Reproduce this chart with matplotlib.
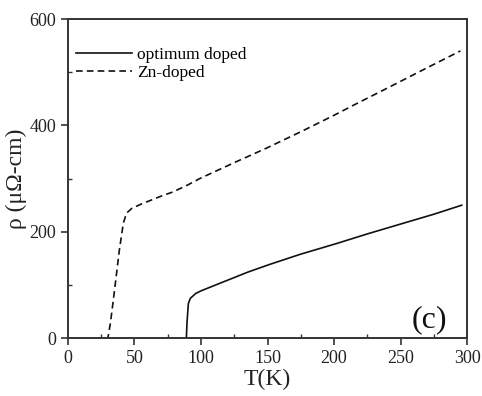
import numpy as np
import matplotlib
matplotlib.use('Agg')
import matplotlib.pyplot as plt

# data
t_opt = [85, 89, 89.5, 90.5, 92, 96, 100, 107, 120, 135, 152, 175, 202, 225, 252, 275, 296]
rho_opt = [0, 0, 30, 65, 75, 84, 89, 96, 109, 124, 139, 158, 178, 196, 216, 233, 250]
t_zn = [20, 30, 32, 35, 38.6, 41.6, 44, 48, 55, 62, 70, 79, 90, 99, 125, 149, 175, 200, 217, 240, 265, 295]
rho_zn = [0, 0, 30, 90, 165, 216, 235, 244, 252, 259, 267, 275, 288, 300, 330, 357, 388, 419, 441, 470, 502, 540]

plt.rcParams['font.family'] = ['Liberation Serif', 'DejaVu Serif']

fig = plt.figure(figsize=(4.82, 3.96), dpi=100)
ax = fig.add_axes([0.141, 0.146, 0.828, 0.806])

ax.plot(t_opt, rho_opt, color='#111111', lw=1.2, label='optimum doped')
ax.plot(t_zn, rho_zn, color='#111111', lw=1.2, ls=(0, (4, 2.5)), label='Zn-doped')

ax.set_xlim(0, 300)
ax.set_ylim(0, 600)
ax.set_xticks(np.arange(0, 301, 50))
ax.set_yticks(np.arange(0, 601, 200))
ax.set_xticks(np.arange(25, 300, 50), minor=True)
ax.set_yticks(np.arange(100, 600, 200), minor=True)
ax.tick_params(which='major', direction='out', length=5, width=1.2, labelsize=13, colors='#333333', labelcolor='#222222')
ax.tick_params(which='minor', direction='in', length=3, width=1.0, colors='#333333')
for s in ax.spines.values():
    s.set_linewidth(1.4)
    s.set_color('#333333')

ax.set_xlabel('T(K)', fontsize=17, color='#222222', labelpad=1)
ax.set_ylabel('ρ (μΩ-cm)', fontsize=17, color='#222222', labelpad=2)

ax.text(272, 34, '(c)', fontsize=23, ha='center', va='center', color='#111111')

ax.legend(loc='upper left', bbox_to_anchor=(-0.01, 0.95), frameon=False, fontsize=12.5,
          handlelength=3.2, handletextpad=0.3, labelspacing=0.1, borderaxespad=0.3)

fig.savefig('out.png', dpi=100)
